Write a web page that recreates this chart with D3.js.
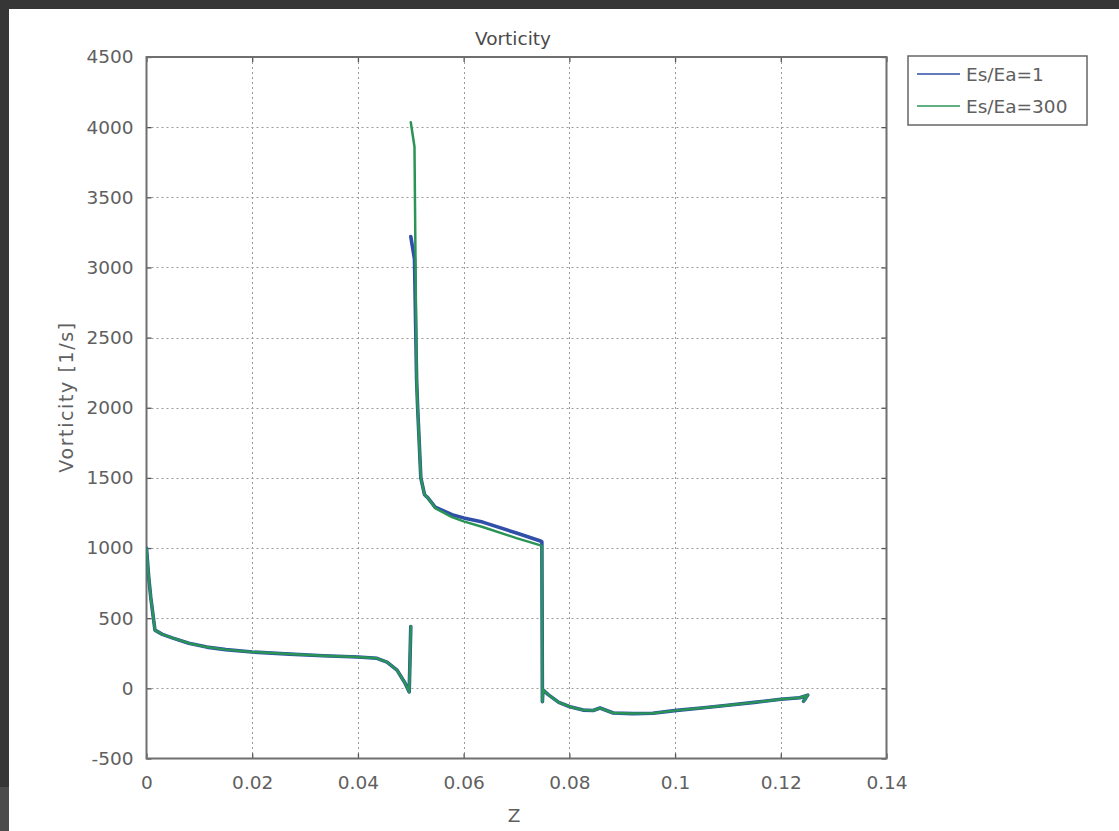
<!DOCTYPE html>
<html>
<head>
<meta charset="utf-8">
<script src="https://cdn.jsdelivr.net/npm/d3@7"></script>
<style>
  html, body { margin: 0; padding: 0; background: #363636; }
  svg { display: block; }
  text { font-family: "DejaVu Sans", Verdana, sans-serif; }
</style>
</head>
<body>
<svg id="chart" width="1119" height="831"></svg>
<script>
// ---- data ----
const chartTitle = "Vorticity";
const xLabel = "Z";
const yLabel = "Vorticity [1/s]";
const seriesNames = ["Es/Ea=1", "Es/Ea=300"];
const xTicks = [0, 0.02, 0.04, 0.06, 0.08, 0.1, 0.12, 0.14];
const xTickLabels = ["0", "0.02", "0.04", "0.06", "0.08", "0.1", "0.12", "0.14"];
const yTicks = [-500, 0, 500, 1000, 1500, 2000, 2500, 3000, 3500, 4000, 4500];
const yTickLabels = ["-500", "0", "500", "1000", "1500", "2000", "2500", "3000", "3500", "4000", "4500"];

// z positions (null = break in the line)
const zVals = [
  0.0000, 0.0004, 0.0008, 0.0016, 0.0030, 0.0050, 0.0080, 0.0114, 0.0150, 0.0200,
  0.0271, 0.0334, 0.0400, 0.0436, 0.0455, 0.0474, 0.0489, 0.0497, 0.0500, null,
  0.0500, 0.0507, 0.0511, 0.0513, 0.0519, 0.0526, 0.0532, 0.0546, 0.0578, 0.0600,
  0.0636, 0.0700, 0.0744, 0.0748, 0.0749, 0.0750, 0.0760, 0.0780, 0.0801, 0.0826,
  0.0845, 0.0858, 0.0883, 0.0920, 0.0958, 0.1003, 0.1050, 0.1104, 0.1150, 0.1200,
  0.1236, 0.1251, 0.1243, 0.1247
];
const vortEs1 = [
  1000, 800, 650, 415, 385, 358, 322, 294, 276, 259,
  244, 232, 223, 214, 187, 130, 38, -25, 440, null,
  3220, 3060, 2200, 2000, 1500, 1380, 1360, 1292, 1238, 1215,
  1185, 1107, 1052, 1045, -95, -10, -45, -100, -131, -155,
  -158, -140, -176, -180, -178, -157, -140, -119, -100, -78,
  -67, -48, -92, -72
];
const vortEs300 = [
  1000, 800, 650, 415, 385, 358, 322, 294, 276, 259,
  244, 232, 223, 214, 187, 130, 38, -25, 440, null,
  4035, 3860, 2200, 2000, 1500, 1380, 1360, 1285, 1220, 1190,
  1150, 1071, 1021, 1015, -95, -10, -45, -100, -131, -155,
  -158, -140, -176, -180, -178, -157, -140, -119, -100, -78,
  -67, -48, -92, -72
];
const seriesColors = ["#2f4fa8", "#2a9456"];

// ---- layout ----
const svg = d3.select("#chart");
const W = 1119, H = 831;
const plot = { left: 146.5, right: 886.5, top: 57, bottom: 758.5 };
const FS = 18.5;

// page background (white sheet over dark frame)
svg.append("rect").attr("x", 0).attr("y", 0).attr("width", W).attr("height", H).attr("fill", "#363636");
svg.append("rect").attr("x", 0).attr("y", 787).attr("width", 9).attr("height", H - 787).attr("fill", "#4b4b4b");
svg.append("rect").attr("x", 9).attr("y", 9).attr("width", W - 9).attr("height", H - 9).attr("fill", "#ffffff");

const x = d3.scaleLinear().domain([0, 0.14]).range([plot.left, plot.right]);
const y = d3.scaleLinear().domain([-500, 4500]).range([plot.bottom, plot.top]);

// grid
const grid = svg.append("g").attr("stroke", "#9a9a9a").attr("stroke-width", 1).attr("stroke-dasharray", "2,3");
grid.selectAll("line.v").data(xTicks.slice(1, -1)).join("line")
  .attr("x1", d => Math.round(x(d)) + 0.5).attr("x2", d => Math.round(x(d)) + 0.5)
  .attr("y1", plot.top).attr("y2", plot.bottom);
grid.selectAll("line.h").data(yTicks.slice(1, -1)).join("line")
  .attr("y1", d => Math.round(y(d)) + 0.5).attr("y2", d => Math.round(y(d)) + 0.5)
  .attr("x1", plot.left).attr("x2", plot.right);

// axes with inward ticks on all sides
const tickLen = 5;
const axB = d3.axisBottom(x).tickValues(xTicks).tickSize(-tickLen).tickFormat((d, i) => xTickLabels[i]).tickPadding(17);
const axT = d3.axisTop(x).tickValues(xTicks).tickSize(-tickLen).tickFormat("");
const axL = d3.axisLeft(y).tickValues(yTicks).tickSize(-tickLen).tickFormat((d, i) => yTickLabels[i]).tickPadding(13);
const axR = d3.axisRight(y).tickValues(yTicks).tickSize(-tickLen).tickFormat("");

function styleAxis(g) {
  g.select(".domain").remove();
  g.selectAll(".tick line").attr("stroke", "#555").attr("stroke-width", 1.3);
  g.selectAll(".tick text").attr("fill", "#606060").attr("font-size", FS)
    .attr("font-family", "\"DejaVu Sans\", Verdana, sans-serif");
}
svg.append("g").attr("transform", `translate(0,${plot.bottom})`).call(axB).call(styleAxis);
svg.append("g").attr("transform", `translate(0,${plot.top})`).call(axT).call(styleAxis);
svg.append("g").attr("transform", `translate(${plot.left},0)`).call(axL).call(styleAxis);
svg.append("g").attr("transform", `translate(${plot.right},0)`).call(axR).call(styleAxis);

// frame
svg.append("rect").attr("x", plot.left).attr("y", plot.top)
  .attr("width", plot.right - plot.left).attr("height", plot.bottom - plot.top)
  .attr("fill", "none").attr("stroke", "#6f6f6f").attr("stroke-width", 2);

// series
const pts = vals => zVals.map((z, i) => [z, vals[i]]);
const line = d3.line().defined(d => d[0] != null && d[1] != null).x(d => x(d[0])).y(d => y(d[1]));
const clip = svg.append("clipPath").attr("id", "clip").append("rect")
  .attr("x", plot.left).attr("y", plot.top).attr("width", plot.right - plot.left).attr("height", plot.bottom - plot.top);
const lines = svg.append("g").attr("clip-path", "url(#clip)");
lines.append("path").datum(pts(vortEs1)).attr("d", line)
  .attr("fill", "none").attr("stroke", seriesColors[0]).attr("stroke-width", 3.6)
  .attr("stroke-linejoin", "round").attr("stroke-linecap", "round");
lines.append("path").datum(pts(vortEs300)).attr("d", line)
  .attr("fill", "none").attr("stroke", seriesColors[1]).attr("stroke-width", 2.5)
  .attr("stroke-linejoin", "round").attr("stroke-linecap", "round");

// titles
svg.append("text").attr("x", 513).attr("y", 45).attr("text-anchor", "middle")
  .attr("font-size", FS).attr("fill", "#4a4a4a").text(chartTitle);
svg.append("text").attr("x", 514).attr("y", 822).attr("text-anchor", "middle")
  .attr("font-size", FS).attr("fill", "#606060").text(xLabel);
svg.append("text").attr("transform", `translate(73,397) rotate(-90)`)
  .attr("text-anchor", "middle").attr("font-size", 19).attr("letter-spacing", 1.6)
  .attr("fill", "#606060").text(yLabel);

// legend
const leg = svg.append("g");
leg.append("rect").attr("x", 908).attr("y", 56).attr("width", 179).attr("height", 69)
  .attr("fill", "#fff").attr("stroke", "#666").attr("stroke-width", 1.5);
seriesNames.forEach((name, i) => {
  const ly = 74 + i * 32;
  leg.append("line").attr("x1", 917).attr("x2", 960).attr("y1", ly).attr("y2", ly)
    .attr("stroke", seriesColors[i]).attr("stroke-width", 1.3);
  leg.append("text").attr("x", 966).attr("y", ly + 6.5).attr("font-size", FS).attr("fill", "#606060").text(name);
});
</script>
</body>
</html>
